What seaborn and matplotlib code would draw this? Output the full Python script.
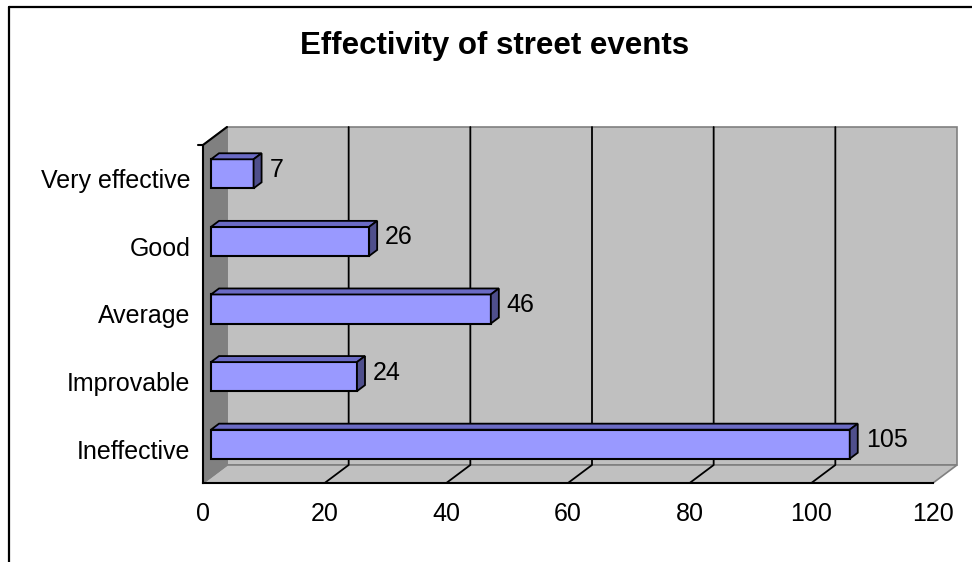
import numpy as np
import pandas as pd
import matplotlib
matplotlib.use("Agg")
import matplotlib.pyplot as plt
import matplotlib.transforms as mtransforms
from matplotlib.patches import Polygon
from matplotlib.lines import Line2D
import seaborn as sns

sns.set_style("white")
plt.rcParams['font.family'] = ['Liberation Sans', 'DejaVu Sans']
plt.rcParams['text.color'] = 'black'
plt.rcParams['xtick.color'] = 'black'
plt.rcParams['ytick.color'] = 'black'
plt.rcParams['axes.labelcolor'] = 'black'

# data (top to bottom as shown)
categories = ['Very effective', 'Good', 'Average', 'Improvable', 'Ineffective']
counts = [7, 26, 46, 24, 105]
x_ticks = [0, 20, 40, 60, 80, 100, 120]
title = 'Effectivity of street events'

df = pd.DataFrame({'category': categories, 'count': counts})

W, H, DPI = 972, 562, 100
fig = plt.figure(figsize=(W / DPI, H / DPI), dpi=DPI)
fig.patch.set_facecolor('white')

# front plane of the pseudo-3D plot (pixels)
left, right, top, bottom = 203, 933, 145, 483
ax = fig.add_axes([left / W, 1 - bottom / H, (right - left) / W, (bottom - top) / H])
ax.set_facecolor('none')

sns.barplot(data=df, x='count', y='category', order=categories, color='#9999FF',
            width=0.43, edgecolor='black', linewidth=1.5, saturation=1, ax=ax, zorder=3)
ax.set_xlim(0, 120)
ax.set_ylim(len(categories) - 0.5, -0.5)
ax.set_xlabel('')
ax.set_ylabel('')

# depth of the walls and of the bars, in pixels
wall_d = (24, 18)
bar_off = (8, 5)
bar_d = (8, 6)

inv = ax.transData.inverted()


def to_data(pts):
    return inv.transform(np.asarray(pts, dtype=float))


def disp(x, y):
    return ax.transData.transform((x, y))


# corners of the front plane in display coords (y up)
fx0, fy_bot = disp(0, len(categories) - 0.5)
fx1, fy_top = disp(120, -0.5)
dx, dy = wall_d

back_wall = [(fx0 + dx, fy_bot + dy), (fx1 + dx, fy_bot + dy),
             (fx1 + dx, fy_top + dy), (fx0 + dx, fy_top + dy)]
floor = [(fx0, fy_bot), (fx1, fy_bot), (fx1 + dx, fy_bot + dy), (fx0 + dx, fy_bot + dy)]
left_wall = [(fx0, fy_bot), (fx0 + dx, fy_bot + dy), (fx0 + dx, fy_top + dy), (fx0, fy_top)]

for pts, fc, z in [(back_wall, '#C0C0C0', 0.1), (floor, '#C0C0C0', 0.2), (left_wall, '#808080', 0.3)]:
    ax.add_patch(Polygon(to_data(pts), closed=True, facecolor=fc, edgecolor='#808080',
                         linewidth=1.2, zorder=z, clip_on=False))

# gridlines on back wall and floor
for t in x_ticks[1:-1]:
    gx, _ = disp(t, 0)
    line = to_data([(gx, fy_bot), (gx + dx, fy_bot + dy), (gx + dx, fy_top + dy)])
    ax.plot(line[:, 0], line[:, 1], color='black', lw=1.3, zorder=0.5, clip_on=False)

# black top edge of the left wall
edge = to_data([(fx0 - 5, fy_top), (fx0, fy_top), (fx0 + dx, fy_top + dy)])
ax.plot(edge[:, 0], edge[:, 1], color='black', lw=1.5, zorder=0.6, clip_on=False)

# shift bar fronts back a little and add top / side faces
shift = mtransforms.ScaledTranslation(bar_off[0] / DPI, bar_off[1] / DPI, fig.dpi_scale_trans)
for p in list(ax.patches):
    if isinstance(p, Polygon):
        continue
    x0, y0 = p.get_x(), p.get_y()
    x1, y1 = x0 + p.get_width(), y0 + p.get_height()
    p.set_transform(ax.transData + shift)
    p.set_clip_on(False)
    (X0, Ya), (X1, Yb) = disp(x0, y0), disp(x1, y1)
    X0 += bar_off[0]; X1 += bar_off[0]
    Ytop = max(Ya, Yb) + bar_off[1]
    Ybot = min(Ya, Yb) + bar_off[1]
    bx, by = bar_d
    top_face = [(X0, Ytop), (X1, Ytop), (X1 + bx, Ytop + by), (X0 + bx, Ytop + by)]
    side_face = [(X1, Ybot), (X1, Ytop), (X1 + bx, Ytop + by), (X1 + bx, Ybot + by)]
    ax.add_patch(Polygon(to_data(top_face), closed=True, facecolor='#6B6BC4',
                         edgecolor='black', linewidth=1.3, zorder=3.1, clip_on=False))
    ax.add_patch(Polygon(to_data(side_face), closed=True, facecolor='#4F4F8C',
                         edgecolor='black', linewidth=1.3, zorder=3.1, clip_on=False))

# value labels
for i, v in enumerate(counts):
    ax.annotate(str(v), xy=(v, i), xytext=(bar_off[0] + 16, 9), textcoords='offset pixels',
                ha='left', va='center', fontsize=18, color='black', zorder=4)

# axes: spines and ticks
sns.despine(ax=ax, top=True, right=True)
for s in ['left', 'bottom']:
    ax.spines[s].set_color('black')
    ax.spines[s].set_linewidth(1.5)
    ax.spines[s].set_zorder(5)
ax.set_xticks(x_ticks)
ax.tick_params(axis='x', which='major', direction='out', length=5, width=1.5,
               color='black', labelsize=18, pad=9)
ax.set_yticks(range(len(categories)))
ax.set_yticklabels(categories)
ax.set_yticks(np.arange(-0.5, len(categories), 1), minor=True)
ax.tick_params(axis='y', which='major', length=0, labelsize=18, pad=9)
ax.tick_params(axis='y', which='minor', direction='out', length=5, width=1.5, color='black')
ax.grid(False)

# title and outer frame
fig.text(495 / W, 1 - 46 / H, title, ha='center', va='center', fontsize=22.5,
         fontweight='bold', color='black')
fig.add_artist(Line2D([9 / W, 1], [1 - 7 / H, 1 - 7 / H], color='black', lw=1.6,
                      transform=fig.transFigure))
fig.add_artist(Line2D([9 / W, 9 / W], [0, 1 - 7 / H], color='black', lw=1.6,
                      transform=fig.transFigure))

fig.savefig('out.png', dpi=DPI)
